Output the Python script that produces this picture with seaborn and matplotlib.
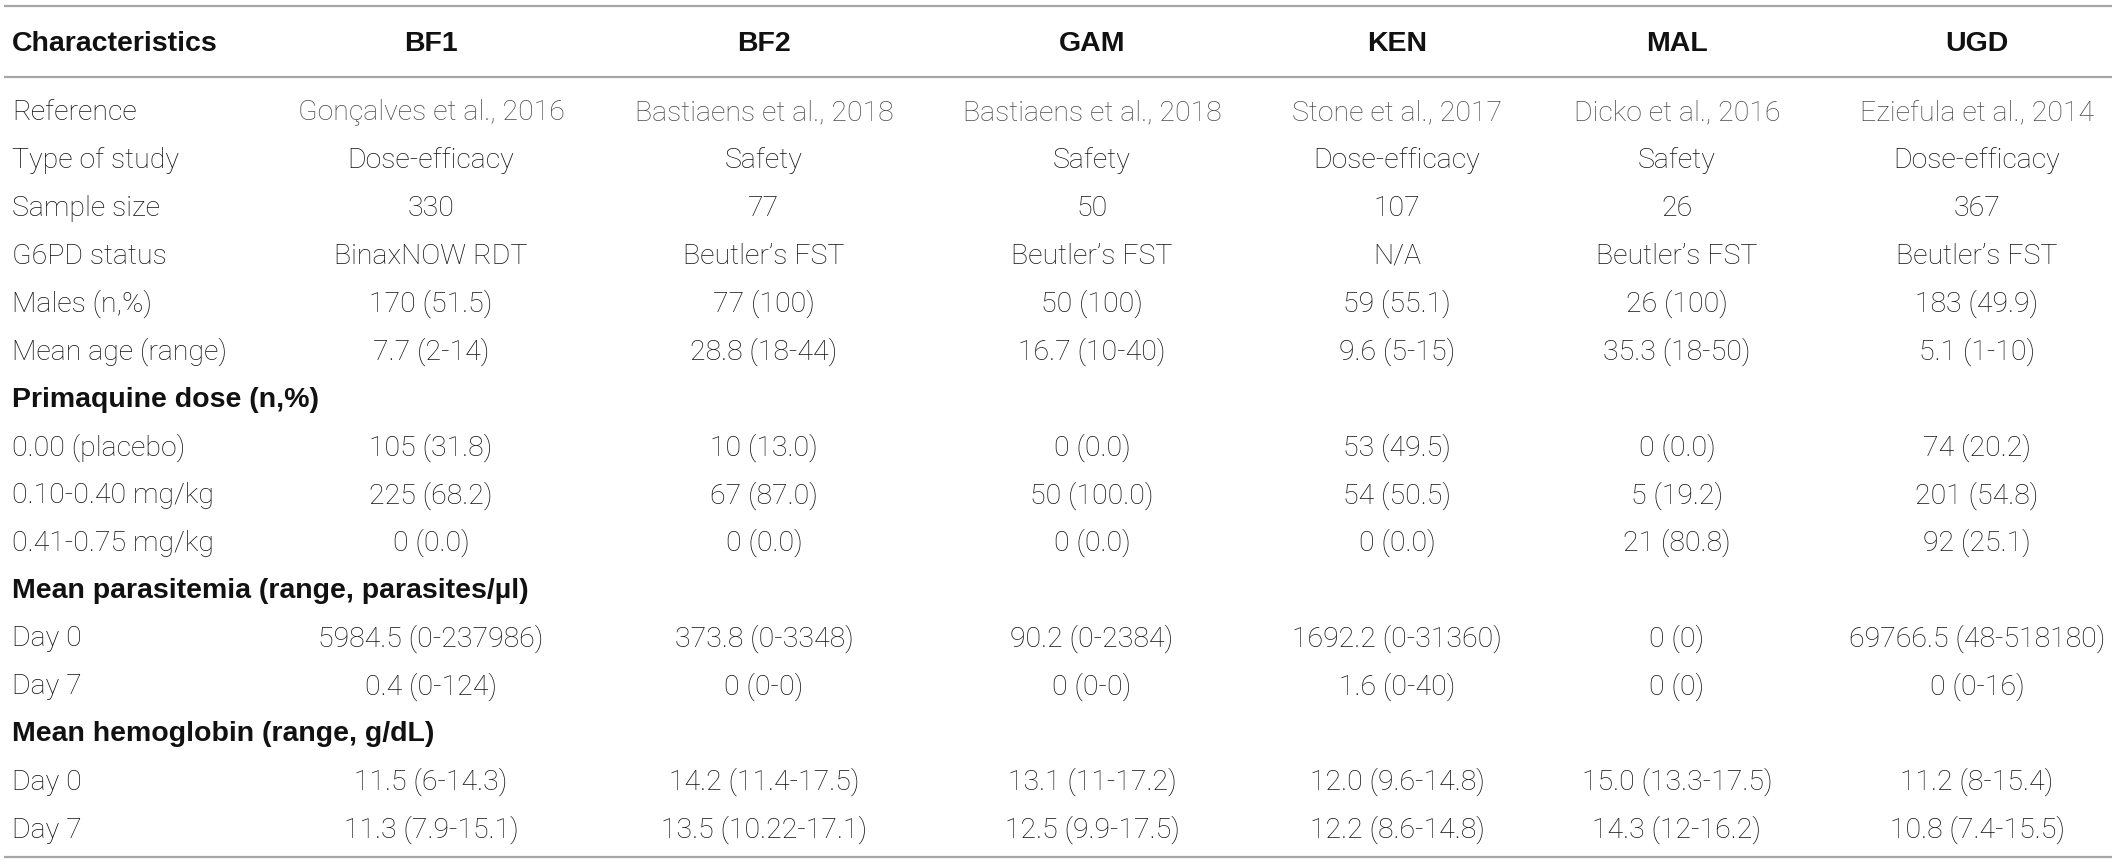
import matplotlib.pyplot as plt
import pandas as pd
import seaborn as sns

sns.set_theme(style="white")
plt.rcParams['font.family'] = ['Roboto', 'Liberation Sans', 'DejaVu Sans']

# table content
columns = ['BF1', 'BF2', 'GAM', 'KEN', 'MAL', 'UGD']

references = ['Gonçalves et al., 2016', 'Bastiaens et al., 2018', 'Bastiaens et al., 2018',
              'Stone et al., 2017', 'Dicko et al., 2016', 'Eziefula et al., 2014']
study_type = ['Dose-efficacy', 'Safety', 'Safety', 'Dose-efficacy', 'Safety', 'Dose-efficacy']
sample_size = ['330', '77', '50', '107', '26', '367']
g6pd_status = ['BinaxNOW RDT', 'Beutler’s FST', 'Beutler’s FST', 'N/A', 'Beutler’s FST', 'Beutler’s FST']
males = ['170 (51.5)', '77 (100)', '50 (100)', '59 (55.1)', '26 (100)', '183 (49.9)']
mean_age = ['7.7 (2-14)', '28.8 (18-44)', '16.7 (10-40)', '9.6 (5-15)', '35.3 (18-50)', '5.1 (1-10)']
pq_placebo = ['105 (31.8)', '10 (13.0)', '0 (0.0)', '53 (49.5)', '0 (0.0)', '74 (20.2)']
pq_low = ['225 (68.2)', '67 (87.0)', '50 (100.0)', '54 (50.5)', '5 (19.2)', '201 (54.8)']
pq_high = ['0 (0.0)', '0 (0.0)', '0 (0.0)', '0 (0.0)', '21 (80.8)', '92 (25.1)']
para_day0 = ['5984.5 (0-237986)', '373.8 (0-3348)', '90.2 (0-2384)', '1692.2 (0-31360)', '0 (0)', '69766.5 (48-518180)']
para_day7 = ['0.4 (0-124)', '0 (0-0)', '0 (0-0)', '1.6 (0-40)', '0 (0)', '0 (0-16)']
hb_day0 = ['11.5 (6-14.3)', '14.2 (11.4-17.5)', '13.1 (11-17.2)', '12.0 (9.6-14.8)', '15.0 (13.3-17.5)', '11.2 (8-15.4)']
hb_day7 = ['11.3 (7.9-15.1)', '13.5 (10.22-17.1)', '12.5 (9.9-17.5)', '12.2 (8.6-14.8)', '14.3 (12-16.2)', '10.8 (7.4-15.5)']

blank = [''] * 6
rows = [
    ('Reference', references, False),
    ('Type of study', study_type, False),
    ('Sample size', sample_size, False),
    ('G6PD status', g6pd_status, False),
    ('Males (n,%)', males, False),
    ('Mean age (range)', mean_age, False),
    ('Primaquine dose (n,%)', blank, True),
    ('0.00 (placebo)', pq_placebo, False),
    ('0.10-0.40 mg/kg', pq_low, False),
    ('0.41-0.75 mg/kg', pq_high, False),
    ('Mean parasitemia (range, parasites/µl)', blank, True),
    ('Day 0', para_day0, False),
    ('Day 7', para_day7, False),
    ('Mean hemoglobin (range, g/dL)', blank, True),
    ('Day 0', hb_day0, False),
    ('Day 7', hb_day7, False),
]
df = pd.DataFrame([r[1] for r in rows], columns=columns)
df.insert(0, 'Characteristics', [r[0] for r in rows])
is_section = [r[2] for r in rows]

# layout (pixel coordinates of a 2117x864 canvas)
W, H = 2117, 864
col_x = [431, 764, 1092, 1397, 1677, 1977]
label_x = 12
y_first, y_last = 113, 830
row_step = (y_last - y_first) / (len(df) - 1)

fig = plt.figure(figsize=(W / 100, H / 100), dpi=100)
ax = fig.add_axes([0, 0, 1, 1])
ax.set_xlim(0, W)
ax.set_ylim(H, 0)
ax.axis('off')

body = dict(fontsize=20.5, weight='light', color='#111111', va='center')
bold = dict(fontsize=20.5, weight='bold', color='#111111', va='center',
            family=['Liberation Sans', 'DejaVu Sans'])

# header
ax.text(label_x, 44, 'Characteristics', ha='left', **bold)
for x, name in zip(col_x, columns):
    ax.text(x, 44, name, ha='center', **bold)

for i, row in df.iterrows():
    y = y_first + i * row_step
    if is_section[i]:
        ax.text(label_x, y, row['Characteristics'], ha='left', **bold)
        continue
    ax.text(label_x, y, row['Characteristics'], ha='left', **body)
    for x, name in zip(col_x, columns):
        style = dict(body)
        if i == 0:
            # cited studies are printed in grey
            style['color'] = '#4a4a4a'
        ax.text(x, y, row[name], ha='center', **style)

for y in (6, 77, 857):
    ax.plot([4, 2112], [y, y], color='#a6a6a6', lw=1.6, solid_capstyle='butt')

fig.savefig('out.png', dpi=100)
